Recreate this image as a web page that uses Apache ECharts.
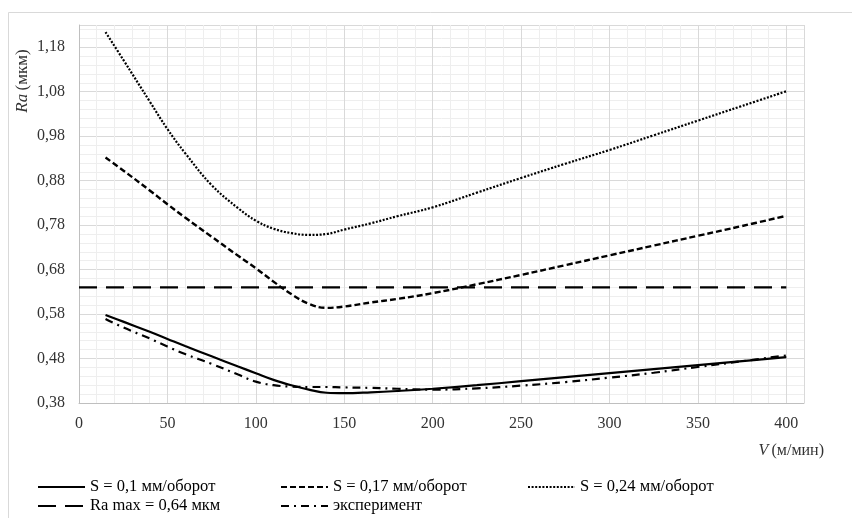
<!DOCTYPE html>
<html>
<head>
<meta charset="utf-8">
<script src="https://cdn.jsdelivr.net/npm/echarts@6/dist/echarts.min.js"></script>
<style>
html,body{margin:0;padding:0;background:#fff;}
#c{width:852px;height:518px;}
</style>
</head>
<body>
<div id="c"></div>
<script>
// Cutting speed V (м/мин)
const V = [15, 25, 40, 50, 60, 75, 90, 100, 110, 120, 130, 140, 150, 165, 180, 200, 225, 250, 275, 300, 325, 350, 375, 400];
// Ra (мкм) for S = 0,1 мм/оборот
const S01 = [0.578, 0.563, 0.540, 0.524, 0.508, 0.485, 0.462, 0.447, 0.432, 0.420, 0.410, 0.403, 0.402, 0.404, 0.407, 0.412, 0.420, 0.429, 0.438, 0.447, 0.456, 0.465, 0.474, 0.483];
// Ra for S = 0,17 мм/оборот
const S017 = [0.932, 0.903, 0.858, 0.827, 0.797, 0.754, 0.711, 0.683, 0.653, 0.625, 0.603, 0.594, 0.597, 0.606, 0.614, 0.627, 0.647, 0.668, 0.690, 0.712, 0.734, 0.756, 0.778, 0.801];
// Ra for S = 0,24 мм/оборот
const S024 = [1.214, 1.152, 1.058, 0.996, 0.942, 0.870, 0.818, 0.790, 0.772, 0.762, 0.758, 0.760, 0.770, 0.784, 0.800, 0.820, 0.853, 0.886, 0.918, 0.949, 0.982, 1.015, 1.048, 1.081];
// Experiment
const EXP = [0.569, 0.550, 0.525, 0.507, 0.490, 0.468, 0.444, 0.428, 0.420, 0.417, 0.416, 0.416, 0.415, 0.414, 0.412, 0.410, 0.413, 0.419, 0.427, 0.437, 0.448, 0.461, 0.474, 0.487];
// Ra max limit
const RAMAX_V = [0, 400];
const RAMAX = [0.64, 0.64];

const NAMES = ['S = 0,1 мм/оборот', 'S = 0,17 мм/оборот', 'S = 0,24 мм/оборот', 'Ra max = 0,64 мкм', 'эксперимент'];

const zip = (xs, ys) => xs.map((x, i) => [x, ys[i]]);
const FONT = 'Liberation Serif';

const chart = echarts.init(document.getElementById('c'), null, {renderer: 'canvas'});

function lineSeries(name, xs, ys, type, width) {
  return {
    name: name, type: 'line', xAxisIndex: 1, yAxisIndex: 1,
    data: zip(xs, ys), showSymbol: false, symbol: 'none',
    smooth: 0.4, animation: false,
    itemStyle: {color: '#000'},
    lineStyle: {color: '#000', width: width, type: type}
  };
}

function legendAt(name, left, centerY) {
  return {
    data: [name], left: left, top: centerY - 9, padding: 0,
    itemWidth: 47, itemHeight: 18, selectedMode: false,
    itemStyle: {opacity: 0},
    textStyle: {fontFamily: FONT, fontSize: 16.5, color: '#000', lineHeight: 18}
  };
}

const option = {
  backgroundColor: '#fff',
  animation: false,
  grid: {left: 79, right: 48, top: 25, bottom: 115, containLabel: false},
  xAxis: [
    { // minor grid
      type: 'value', min: 0, max: 410, interval: 10, position: 'bottom',
      axisLine: {show: false}, axisTick: {show: false}, axisLabel: {show: false},
      splitLine: {show: true, lineStyle: {color: '#eeeeee', width: 1}}
    },
    { // major grid + labels
      type: 'value', min: 0, max: 410, interval: 50, position: 'bottom',
      axisLine: {show: true, lineStyle: {color: '#bfbfbf', width: 1}},
      axisTick: {show: false},
      axisLabel: {show: true, showMaxLabel: false, margin: 13, color: '#333',
        fontFamily: FONT, fontSize: 16},
      splitLine: {show: true, lineStyle: {color: '#d9d9d9', width: 1}}
    }
  ],
  yAxis: [
    {
      type: 'value', min: 0.38, max: 1.23, interval: 0.02, position: 'left',
      axisLine: {show: false}, axisTick: {show: false}, axisLabel: {show: false},
      splitLine: {show: true, lineStyle: {color: '#eeeeee', width: 1}}
    },
    {
      type: 'value', min: 0.38, max: 1.23, interval: 0.1, position: 'left',
      axisLine: {show: true, lineStyle: {color: '#bfbfbf', width: 1}},
      axisTick: {show: false},
      axisLabel: {show: true, showMaxLabel: false, margin: 14, color: '#333',
        fontFamily: FONT, fontSize: 16,
        formatter: v => v.toFixed(2).replace('.', ',')},
      splitLine: {show: true, lineStyle: {color: '#d9d9d9', width: 1}}
    }
  ],
  legend: [
    legendAt(NAMES[0], 37, 487),
    legendAt(NAMES[1], 280, 487),
    legendAt(NAMES[2], 527, 487),
    legendAt(NAMES[3], 37, 506),
    legendAt(NAMES[4], 280, 506)
  ],
  series: [
    lineSeries(NAMES[0], V, S01, 'solid', 2.2),
    lineSeries(NAMES[1], V, S017, [6, 3], 2.4),
    lineSeries(NAMES[2], V, S024, [2, 1.6], 2.2),
    Object.assign(lineSeries(NAMES[3], RAMAX_V, RAMAX, [18, 9], 2.4), {smooth: false}),
    lineSeries(NAMES[4], V, EXP, [8, 5, 2, 5], 2.2)
  ],
  graphic: [
    {
      type: 'rect', silent: true, z: -10,
      shape: {x: 8.5, y: 12.5, width: 900, height: 600},
      style: {fill: null, stroke: '#d9d9d9', lineWidth: 1}
    },
    {
      type: 'text', silent: true,
      x: 23, y: 81, rotation: Math.PI / 2,
      style: {
        text: '{i|Ra} {n|(мкм)}',
        align: 'center', verticalAlign: 'middle',
        fill: '#333',
        rich: {
          i: {fontFamily: FONT, fontSize: 17, fontStyle: 'italic', fill: '#333'},
          n: {fontFamily: FONT, fontSize: 17, fill: '#333'}
        }
      }
    },
    {
      type: 'text', silent: true,
      x: 824, y: 451,
      style: {
        text: '{i|V} {n|(м/мин)}',
        align: 'right', verticalAlign: 'middle',
        fill: '#333',
        rich: {
          i: {fontFamily: FONT, fontSize: 16, fontStyle: 'italic', fill: '#333'},
          n: {fontFamily: FONT, fontSize: 16, fill: '#333'}
        }
      }
    }
  ]
};
chart.setOption(option);
</script>
</body>
</html>
